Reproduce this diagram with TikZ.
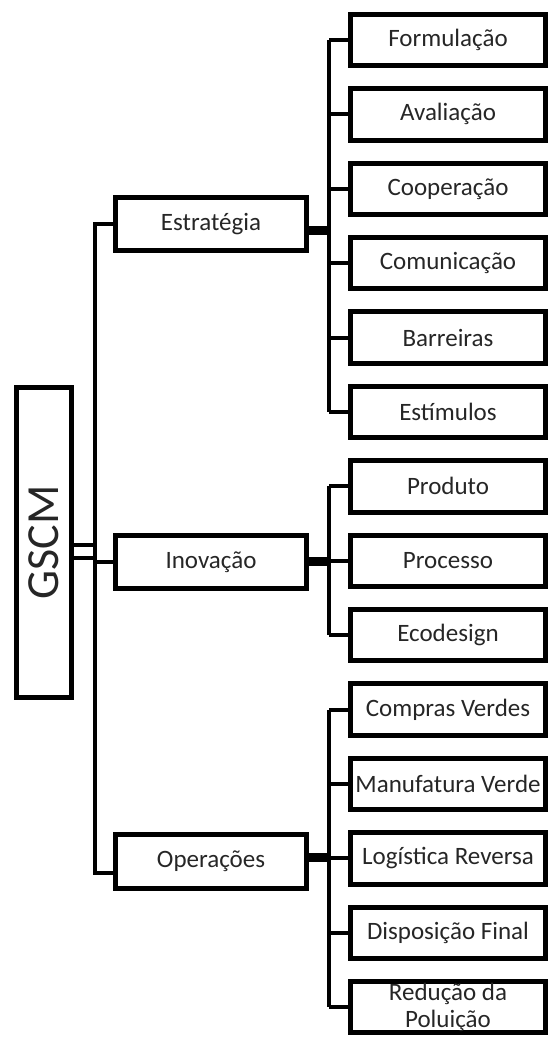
\documentclass[tikz,border=0pt]{standalone}
\usepackage{fontspec}
\setmainfont{Carlito}
\begin{document}
\begin{tikzpicture}[x=1pt,y=-1pt,
  box/.style={draw, line width=5pt, rectangle, inner sep=0pt, font=\fontsize{25}{27}\selectfont, text=black!85},
  leaf/.style={box, minimum width=195pt, minimum height=51.5pt, align=center},
  mid/.style={box, minimum width=191.5pt, minimum height=53.5pt},
  conn/.style={line width=4pt, line join=miter},
  bar/.style={line width=9pt}]
\useasboundingbox (0,0) rectangle (550,1038);
% root
\node[box, minimum width=55.5pt, minimum height=310.5pt] (gscm) at (44,542.5)
  {\rotatebox{90}{\fontsize{46}{50}\selectfont GSCM}};
% mid level
\node[mid] (estr) at (211,224) {Estratégia};
\node[mid] (inov) at (211,562) {Inovação};
\node[mid] (oper) at (211,861.5) {Operações};
% leaves
\foreach \t [count=\i from 0] in {Formulação,Avaliação,Cooperação,Comunicação,Barreiras,Estímulos,Produto,Processo,Ecodesign,Compras Verdes,Manufatura Verde,Logística Reversa,Disposição Final,{Redução da\\Poluição}}
  \node[leaf] (l\i) at (448,{40+74.4*\i}) {\t};
% trunk
\coordinate (tb) at (95,873);
\coordinate (sv) at (329,0);
\coordinate (da) at (0,545);
\coordinate (db) at (0,558);
\draw[conn] (estr.west) -| (tb) -- (oper.west |- tb);
\draw[conn] (tb |- inov.west) -- (inov.west);
\draw[conn] (gscm.east |- da) -- (tb |- da);
\draw[conn] (gscm.east |- db) -- (tb |- db);
% bars to sub-trunks
\coordinate (be) at ([yshift=-6pt]estr.east);
\coordinate (bi) at ([yshift=1pt]inov.east);
\coordinate (bo) at ([yshift=4pt]oper.east);
\draw[bar] (be) -- (sv |- be);
\draw[bar] (bi) -- (sv |- bi);
\draw[bar] (bo) -- (sv |- bo);
% sub trunks
\draw[conn] (sv |- l0.west) -- (sv |- l5.west);
\draw[conn] (sv |- l6.west) -- (sv |- l8.west);
\draw[conn] (sv |- l9.west) -- (sv |- l13.west);
\foreach \i in {0,...,13}
  \draw[conn] (sv |- l\i.west) -- (l\i.west);
\end{tikzpicture}
\end{document}
